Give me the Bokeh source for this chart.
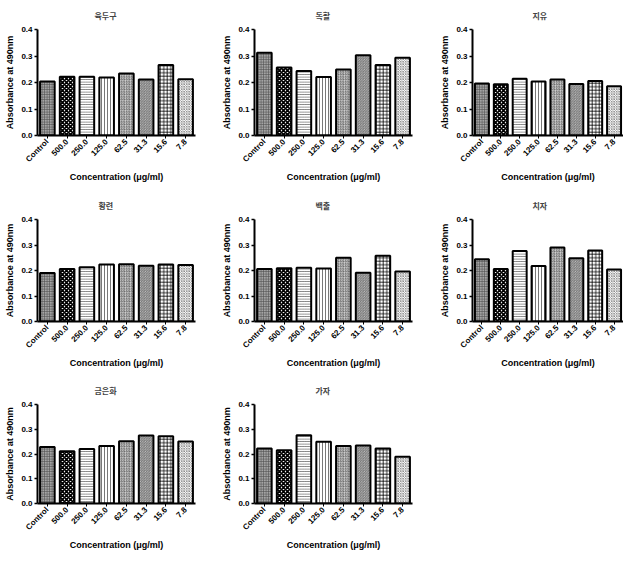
from math import pi
from bokeh.plotting import figure
from bokeh.layouts import column, row
from bokeh.models import ColumnDataSource, FactorRange, Range1d, FixedTicker, NumeralTickFormatter, Title
from bokeh.embed import file_html
from bokeh.resources import INLINE

categories = ["Control", "500.0", "250.0", "125.0", "62.5", "31.3", "15.6", "7.8"]
titles = ["육두구", "독활", "지유", "황련", "백출", "치자", "금은화", "가자"]

v_yukdugu = [0.204, 0.222, 0.222, 0.219, 0.234, 0.211, 0.266, 0.212]
v_dokhwal = [0.312, 0.257, 0.243, 0.221, 0.249, 0.303, 0.266, 0.293]
v_jiyu = [0.196, 0.193, 0.214, 0.204, 0.211, 0.194, 0.206, 0.186]
v_hwangryeon = [0.190, 0.206, 0.213, 0.224, 0.225, 0.219, 0.224, 0.222]
v_baekchul = [0.206, 0.209, 0.211, 0.208, 0.250, 0.191, 0.258, 0.196]
v_chija = [0.244, 0.206, 0.276, 0.218, 0.290, 0.248, 0.278, 0.204]
v_geumeunhwa = [0.228, 0.211, 0.220, 0.232, 0.252, 0.275, 0.272, 0.251]
v_gaja = [0.222, 0.215, 0.276, 0.249, 0.232, 0.234, 0.222, 0.189]

series = [v_yukdugu, v_dokhwal, v_jiyu, v_hwangryeon, v_baekchul, v_chija, v_geumeunhwa, v_gaja]

y_ticks = [0.0, 0.1, 0.2, 0.3, 0.4]

fills = ["#a4a4a4", "white", "white", "white", "#d2d2d2", "#d2d2d2", "white", "white"]
hatches = ["cross", "diagonal_cross", "horizontal_line", "vertical_line",
           "right_diagonal_line", "left_diagonal_line", "cross", "diagonal_cross"]
hatch_colors = ["#505050", "black", "#555555", "#555555", "#505050", "#505050", "black", "#606060"]
hatch_scales = [2.5, 4, 2.5, 3, 2.5, 2.5, 3.5, 2.5]
hatch_weights = [0.7, 1.8, 0.8, 0.8, 0.7, 0.7, 0.8, 0.6]

col_w = [209, 216, 198]
col_left = [37, 45, 47]
col_frame = [158, 158, 156]
row_h = [192, 185, 175]
frame_h = 106

FONT = "Liberation Sans"
TITLE_PX = 8

figs = []
for i, (t, vals) in enumerate(zip(titles, series)):
    r, c = divmod(i, 3)
    w = col_w[c]
    h = row_h[r]
    top = 29 if r == 0 else 23
    p = figure(x_range=FactorRange(*categories, range_padding=0),
               y_range=Range1d(0, 0.4),
               width=w, height=h, output_backend="svg", toolbar_location=None,
               min_border_left=col_left[c], min_border_right=w - col_left[c] - col_frame[c],
               min_border_top=top, min_border_bottom=h - top - frame_h,
               title=t)
    p.title.align = "left"
    p.title.offset = col_frame[c] / 2 - 10 - len(t) * TITLE_PX / 2
    p.title.text_font = "Noto Sans CJK KR"
    p.title.text_font_style = "bold"
    p.title.text_font_size = f"{TITLE_PX}px"
    p.add_layout(Title(text=" ", text_font_size="2px", standoff=0), "above")
    p.outline_line_color = None
    p.grid.visible = False
    p.background_fill_color = "white"
    p.border_fill_color = "white"

    src = ColumnDataSource(dict(x=categories, top=vals, fill=fills, hatch=hatches,
                                hc=hatch_colors, hs=hatch_scales, hw=hatch_weights))
    p.vbar(x="x", top="top", width=0.74, source=src, fill_color="fill",
           line_color="black", line_width=2,
           hatch_pattern="hatch", hatch_color="hc", hatch_scale="hs", hatch_weight="hw")

    p.yaxis.ticker = FixedTicker(ticks=y_ticks)
    p.yaxis.formatter = NumeralTickFormatter(format="0.0")
    p.yaxis.axis_label = "Absorbance at 490nm"
    p.xaxis.axis_label = "Concentration (\u03bcg/ml)"
    for ax in (p.xaxis, p.yaxis):
        ax.axis_line_width = 2
        ax.axis_line_color = "black"
        ax.major_tick_line_width = 1.5
        ax.major_tick_in = 0
        ax.minor_tick_line_color = None
        ax.major_label_text_font = FONT
        ax.major_label_text_font_style = "bold"
        ax.major_label_text_font_size = "8px"
        ax.major_label_text_color = "black"
        ax.axis_label_text_font = FONT
        ax.axis_label_text_font_style = "bold"
        ax.axis_label_text_font_size = "9px"
        ax.axis_label_text_color = "black"
    p.yaxis.major_tick_out = 3
    p.yaxis.major_label_standoff = 2
    p.yaxis.axis_label_standoff = 3
    p.xaxis.major_tick_out = 3
    p.xaxis.major_tick_line_width = 1
    p.xaxis.major_label_standoff = 2
    p.xaxis.axis_label_standoff = 2
    p.xaxis.major_label_orientation = pi / 4
    figs.append(p)

layout = column(row(figs[0], figs[1], figs[2]),
                row(figs[3], figs[4], figs[5]),
                row(figs[6], figs[7]))

open("out.html", "w").write(file_html(layout, INLINE))
